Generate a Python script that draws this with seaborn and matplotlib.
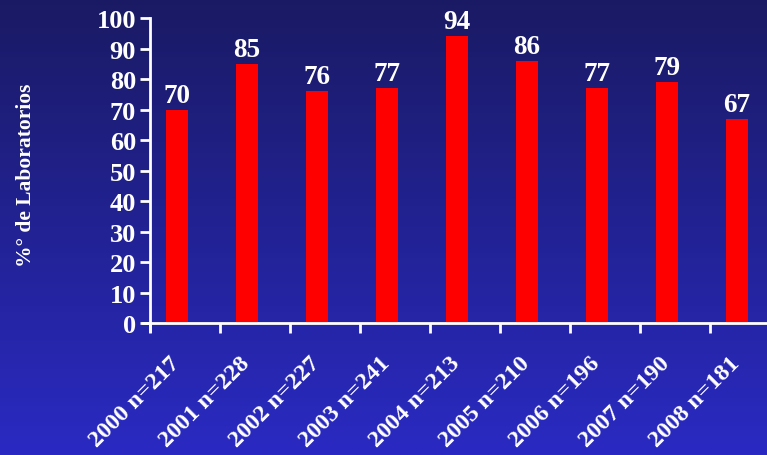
import numpy as np
import matplotlib
matplotlib.use("Agg")
import matplotlib.pyplot as plt
import matplotlib.transforms as mtransforms
import pandas as pd
import seaborn as sns

years = ["2000", "2001", "2002", "2003", "2004", "2005", "2006", "2007", "2008"]
n_labs = [217, 228, 227, 241, 213, 210, 196, 190, 181]
pct = [70, 85, 76, 77, 94, 86, 77, 79, 67]
labels = [f"{y} n={n}" for y, n in zip(years, n_labs)]

df = pd.DataFrame({"label": labels, "pct": pct})

sns.set_style("white")
plt.rcParams['font.family'] = ['Liberation Serif', 'DejaVu Serif']
plt.rcParams['font.weight'] = 'bold'

fig = plt.figure(figsize=(7.67, 4.56), dpi=100)

# gradient background
bg = fig.add_axes([0, 0, 1, 1], zorder=-10)
top = np.array([26, 26, 100]) / 255
bot = np.array([42, 42, 195]) / 255
t = np.linspace(0, 1, 256)[:, None]
grad = top + (bot - top) * t
bg.imshow(grad[:, None, :].repeat(2, axis=1), aspect="auto", extent=[0, 1, 0, 1])
bg.set_axis_off()

ax = fig.add_axes([143 / 767, (456 - 332) / 456, (767 - 143) / 767, (332 - 19) / 456])
ax.patch.set_alpha(0)

sns.barplot(data=df, x="label", y="pct", color="#ff0000", saturation=1,
            width=0.31, linewidth=0, ax=ax)

ax.set_xlim(-0.486, 8.43)
ax.set_ylim(-2.6, 100)

for sp in ["top", "right"]:
    ax.spines[sp].set_visible(False)
ax.spines["left"].set_position(("data", -0.386))
ax.spines["bottom"].set_position(("data", 0))
for sp in ["left", "bottom"]:
    ax.spines[sp].set_color("white")
    ax.spines[sp].set_linewidth(2)

ax.set_yticks(range(0, 101, 10))
ax.set_yticklabels([str(v) for v in range(0, 101, 10)], fontsize=19,
                   fontweight="bold", color="white")
ax.tick_params(axis="y", left=True, direction="out", length=7, width=2,
               color="white", pad=3)

ax.set_xticks(range(len(labels)))
ax.set_xticklabels(labels, rotation=45, ha="right", rotation_mode="anchor",
                   fontsize=17.5, fontweight="bold", color="white")
ax.tick_params(axis="x", which="major", length=0, pad=21)
shift = mtransforms.ScaledTranslation(-8 / 100, 0, fig.dpi_scale_trans)
for lab in ax.get_xticklabels():
    lab.set_transform(lab.get_transform() + shift)
ax.set_xticks(np.arange(len(labels)) - 0.386, minor=True)
ax.tick_params(axis="x", which="minor", bottom=True, direction="out",
               length=7, width=2, color="white")

ax.set_xlabel("")
ax.set_ylabel("%° de Laboratorios", fontsize=15.5, fontweight="bold",
              color="white", labelpad=0)
ax.yaxis.set_label_coords(-0.172, 0.5)

for i, v in enumerate(pct):
    ax.text(i, v + 0.6, str(v), ha="center", va="bottom", fontsize=19.5,
            fontweight="bold", color="white")

fig.savefig("out.png", dpi=100)
